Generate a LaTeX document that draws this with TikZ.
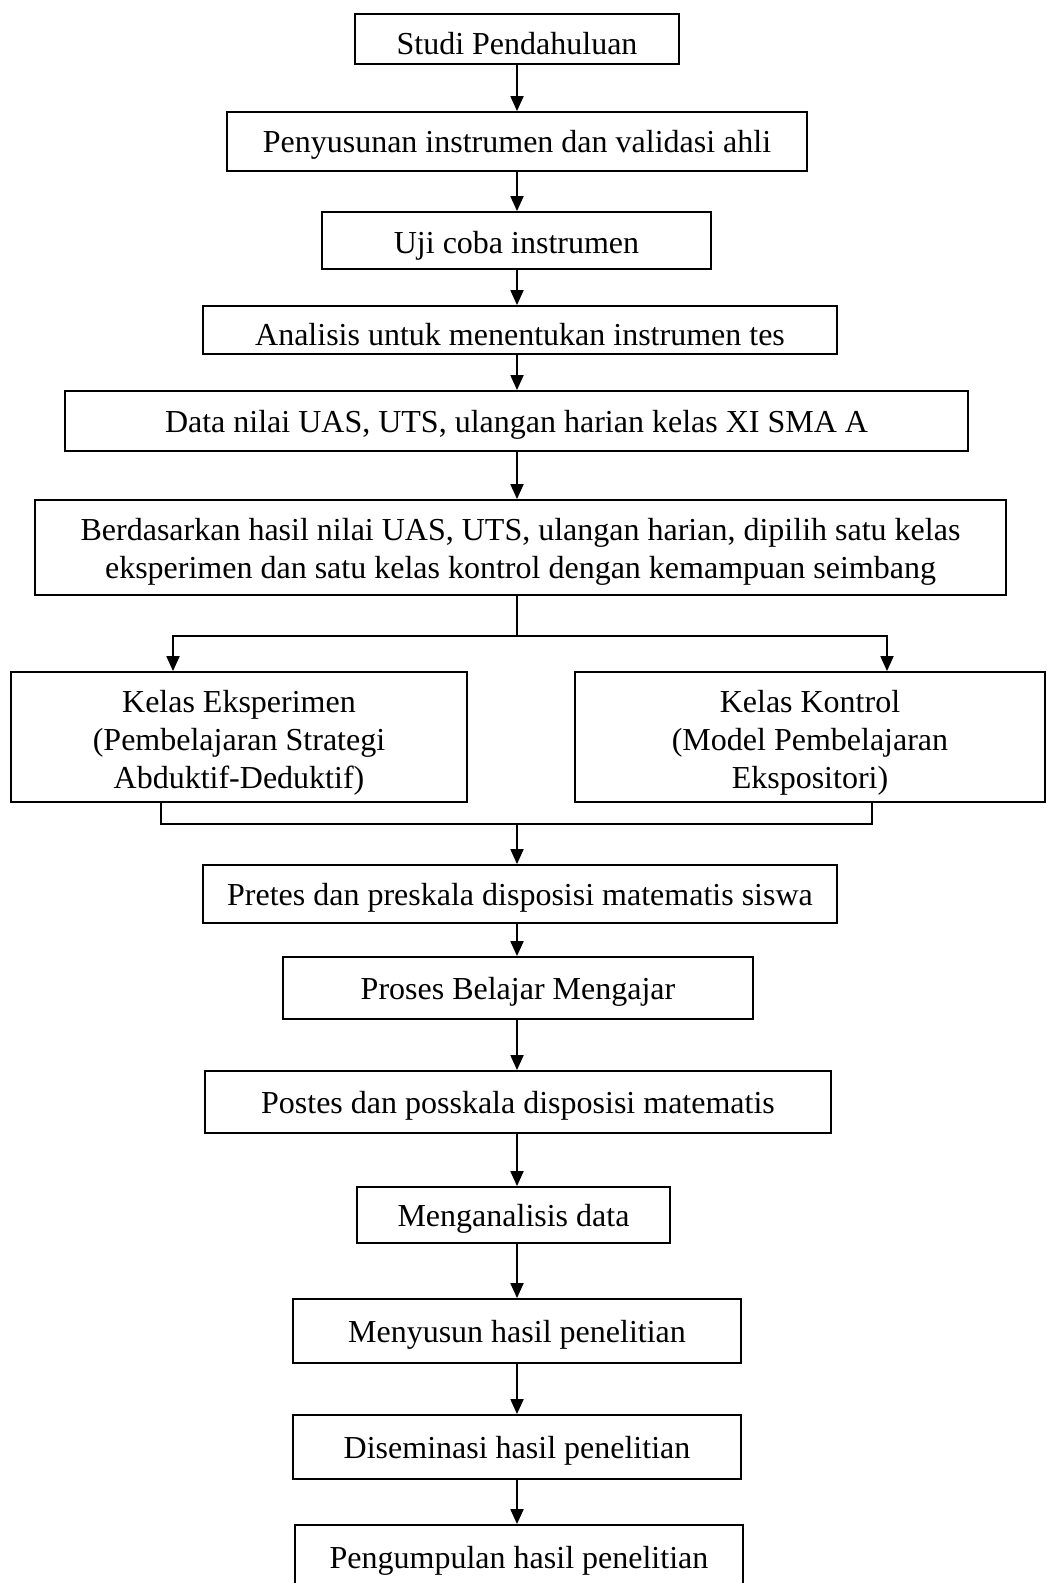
\documentclass[tikz,border=0pt]{standalone}
\usepackage{fontspec}
\setmainfont{Liberation Serif}
\usetikzlibrary{arrows.meta}
\newcommand{\fsz}{\fontsize{32}{38}\selectfont}
\tikzset{
  box/.style={draw, line width=1.8pt, inner sep=0pt, align=center, font=\fsz},
  one/.style={text height=#1, text depth=0pt},
  one/.default=22pt,
  arr/.style={line width=1.8pt, -{Triangle[length=15pt,width=13pt]}},
  ln/.style={line width=1.8pt},
}
\begin{document}
\begin{tikzpicture}[x=1pt,y=-1pt]
\useasboundingbox (0,0) rectangle (1047,1583);
\coordinate (spine) at (517,0);
\node[box, one=30pt, minimum width=324pt, minimum height=50pt] (studi) at (517,39) {Studi Pendahuluan};
\node[box, one, minimum width=580pt, minimum height=59pt] (penyusun) at (517,141.5) {Penyusunan instrumen dan validasi ahli};
\node[box, one=26pt, minimum width=389pt, minimum height=57pt] (uji) at (516.5,240.5) {Uji coba instrumen};
\node[box, one=30pt, minimum width=634pt, minimum height=48pt] (anal) at (520,330) {Analisis untuk menentukan instrumen tes};
\node[box, one, minimum width=903pt, minimum height=60pt] (data) at (516.5,421) {Data nilai UAS, UTS, ulangan harian kelas XI SMA A};
\node[box, text height=62pt, text depth=0pt, minimum width=971pt, minimum height=95pt] (berd) at (520.5,547.5) {Berdasarkan hasil nilai UAS, UTS, ulangan harian, dipilih satu kelas\\eksperimen dan satu kelas kontrol dengan kemampuan seimbang};
\node[box, text height=102pt, text depth=0pt, minimum width=456pt, minimum height=130pt] (eksp) at (239,737) {Kelas Eksperimen\\(Pembelajaran Strategi\\Abduktif-Deduktif)};
\node[box, text height=102pt, text depth=0pt, minimum width=470pt, minimum height=130pt] (kont) at (810,737) {Kelas Kontrol\\(Model Pembelajaran\\Ekspositori)};
\node[box, one, minimum width=634pt, minimum height=58pt] (pretes) at (520,894) {Pretes dan preskala disposisi matematis siswa};
\node[box, one, minimum width=470pt, minimum height=62pt] (proses) at (518,988) {Proses Belajar Mengajar};
\node[box, one, minimum width=626pt, minimum height=62pt] (postes) at (518,1102) {Postes dan posskala disposisi matematis};
\node[box, one, minimum width=313pt, minimum height=56pt] (mengan) at (513.5,1215) {Menganalisis data};
\node[box, one, minimum width=448pt, minimum height=64pt] (menyu) at (517,1331) {Menyusun hasil penelitian};
\node[box, one, minimum width=448pt, minimum height=64pt] (disem) at (517,1447) {Diseminasi hasil penelitian};
\node[box, one, minimum width=448pt, minimum height=64pt] (pengum) at (519,1557) {Pengumpulan hasil penelitian};
% straight arrows
\draw[arr] (studi.south -| spine) -- (penyusun.north -| spine);
\draw[arr] (penyusun.south -| spine) -- (uji.north -| spine);
\draw[arr] (uji.south -| spine) -- (anal.north -| spine);
\draw[arr] (anal.south -| spine) -- (data.north -| spine);
\draw[arr] (data.south -| spine) -- (berd.north -| spine);
% branch
\coordinate (br) at (517,636);
\coordinate (eL) at (173,636);
\coordinate (eR) at (887,636);
\draw[arr] (berd.south -| spine) |- (eL) -- (eL |- eksp.north);
\draw[arr] (br) -| (eR |- kont.north);
% merge
\coordinate (mL) at (161,824);
\coordinate (mR) at (872,824);
\draw[ln] (eksp.south -| mL) -- (mL) -- (mR) -- (kont.south -| mR);
\draw[arr] (spine |- mL) -- (pretes.north -| spine);
\draw[arr] (pretes.south -| spine) -- (proses.north -| spine);
\draw[arr] (proses.south -| spine) -- (postes.north -| spine);
\draw[arr] (postes.south -| spine) -- (mengan.north -| spine);
\draw[arr] (mengan.south -| spine) -- (menyu.north -| spine);
\draw[arr] (menyu.south -| spine) -- (disem.north -| spine);
\draw[arr] (disem.south -| spine) -- (pengum.north -| spine);
\end{tikzpicture}
\end{document}
